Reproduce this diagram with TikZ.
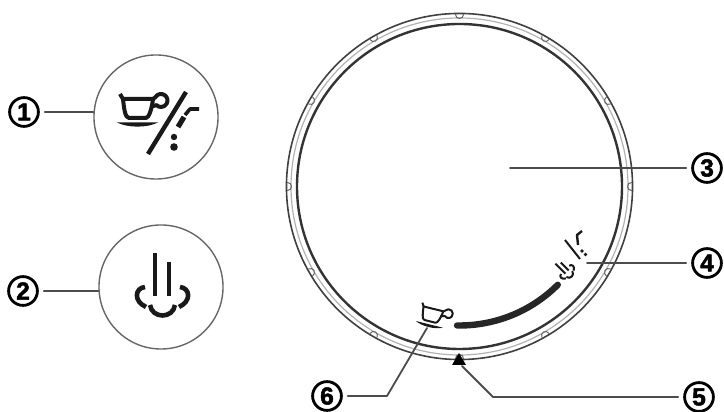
\documentclass[tikz,border=0pt]{standalone}
\usepackage{fontspec}
\setmainfont{Liberation Sans}[BoldFeatures={FakeBold=2}]
\tikzset{
  numlabel/.style={circle,draw=black,line width=0.07cm,minimum size=0.72cm,inner sep=0pt,outer sep=0.16cm,font=\fontsize{17.5}{17.5}\selectfont\bfseries},
  roundbutton/.style={circle,draw=gray!80!black,line width=0.035cm,minimum size=3.1cm,inner sep=0pt},
  leader/.style={draw=black!70,line width=0.045cm},
  icon/.style={draw=black!90,line cap=butt},
}
\newcommand{\cupicon}{
\draw[icon] (-17,16) -- (-14,11) -- (16,11);
\draw[icon] (-14,11) .. controls (-13,2) and (-12,-8) .. (-8,-8) -- (9,-8) .. controls (12,-8) and (15,2) .. (16,11);
\draw[icon] (16,11) -- ([shift={(150:6.5)}]24,9.5) arc (150:-135:6.5) -- (13.5,3);
\fill[black!90] (-20,-12.5) -- (21,-12.5) .. controls (10,-18) and (-9,-18) .. cycle;
}
\newcommand{\steamicon}{
\draw[icon] (-7,34) -- (-7,-9);
\draw[icon] (7,25) -- (7,-9);
\draw[icon] (-12,-18) .. controls (-10,-32) and (11,-32) .. (13,-18);
\draw[icon] (-17,0) .. controls (-27,-1) and (-29,-14) .. (-16,-20);
\draw[icon] (18,0) .. controls (28,-1) and (30,-14) .. (17,-20);
}
\begin{document}
\begin{tikzpicture}[x=0.025cm,y=0.025cm,line cap=round,line join=round]
\useasboundingbox (0,0) rectangle (724,412);
% buttons
\node[roundbutton] (btn1) at (156,295) {};
\node[roundbutton] (btn2) at (161,125) {};
\node[numlabel] (num1) at (24,300) {1};
\node[numlabel] (num2) at (23,121) {2};
\draw[leader] (num1) -- (num1 -| btn1.west);
\draw[leader] (num2) -- (num2 -| btn2.west);
\begin{scope}[shift={(137,302)},line width=0.1cm]
\cupicon
\end{scope}
\draw[icon,line width=0.11cm] (186,320) -- (148,258);
\draw[icon,line width=0.09cm] (199,303) -- (190,303) -- (185,297);
\draw[icon,line width=0.13cm] (184,295) -- (178,285);
\fill[black!90] (174,275) circle (3.2);
\fill[black!90] (174,265) circle (3.8);
\begin{scope}[shift={(162,125)},line width=0.115cm]
\steamicon
\end{scope}
% dial
\node[circle,draw=black!75,line width=0.04cm,minimum size=8.65cm,inner sep=0pt] (dial) at (459.5,225.5) {};
\draw[gray!60,line width=0.03cm] (dial.center) circle (168.5);
\draw[black!80,line width=0.06cm] (dial.center) circle (162.5);
\foreach \a in {0,30,...,330}
  \draw[gray!80!black,line width=0.025cm] ([shift={(\a:172)},shift={(\a+90:4)}]dial.center) arc (\a+90:\a+270:4);
\draw[black!85,line width=0.16cm] ([shift={(-91:139)}]dial.center) arc (-91:-45:139);
\fill[black] (459,59) -- (452,47) -- (466,47) -- cycle;
% small symbols
\begin{scope}[shift={(431,96)},rotate=-14,scale=0.68,line width=0.05cm]
\cupicon
\end{scope}
\begin{scope}[shift={(565,142)},rotate=45,scale=0.33,line width=0.05cm]
\steamicon
\end{scope}
\draw[icon,line width=0.05cm] (565,172) -- (580,153);
\draw[icon,line width=0.06cm] (582,181) -- (577,177) -- (578,167);
\fill[black!90] (582,161) circle (1.8);
\fill[black!90] (585.5,157.5) circle (1.8);
% numbers on the right
\node[numlabel] (num3) at (707,244) {3};
\node[numlabel] (num4) at (707,149) {4};
\node[numlabel] (num5) at (699,15) {5};
\node[numlabel] (num6) at (327,16) {6};
\coordinate (tip3) at (510,244);
\coordinate (tip4) at (587,149);
\coordinate (tip5) at (462,46);
\coordinate (bend5) at (493,15);
\coordinate (tip6) at (427,84);
\coordinate (bend6) at (387,16);
\draw[leader] (num3) -- (tip3);
\draw[leader] (num4) -- (tip4);
\draw[leader] (num5) -- (bend5) -- (tip5);
\draw[leader] (num6) -- (bend6) -- (tip6);
\end{tikzpicture}
\end{document}
